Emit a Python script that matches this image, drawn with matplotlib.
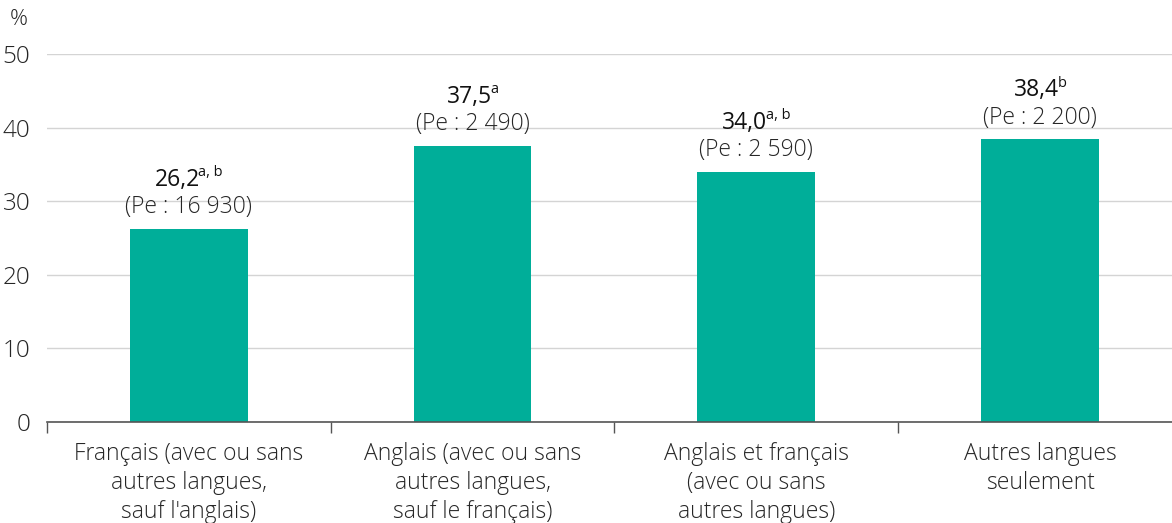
import matplotlib
matplotlib.use("Agg")
import matplotlib.pyplot as plt
import numpy as np

categories = [
    "Français (avec ou sans\nautres langues,\nsauf l'anglais)",
    "Anglais (avec ou sans\nautres langues,\nsauf le français)",
    "Anglais et français\n(avec ou sans\nautres langues)",
    "Autres langues\nseulement",
]
values = [26.2, 37.5, 34.0, 38.4]
notes = ["a, b", "a", "a, b", "b"]
pe_counts = ["16 930", "2 490", "2 590", "2 200"]
yticks = [0, 10, 20, 30, 40, 50]

plt.rcParams['font.family'] = ['Open Sans', 'DejaVu Sans']

bar_color = '#00AE99'
text_color = '#262626'
DPI = 100

fig = plt.figure(figsize=(11.72, 5.23), dpi=DPI)
ax = fig.add_axes([0.0401, 0.193, 0.9599, 0.7037])

x = np.arange(len(values))
ax.bar(x, values, width=0.415, color=bar_color, zorder=3)

ax.set_xlim(-0.5, 3.465)
ax.set_ylim(0, 50)

# horizontal gridlines only
ax.set_yticks(yticks)
ax.set_yticklabels([str(t) for t in yticks], fontsize=17.5, fontweight='light', color=text_color)
ax.yaxis.grid(True, color='#d4d4d4', linewidth=1.0, zorder=0)
ax.tick_params(axis='y', length=0, pad=12)

# category separators as ticks on the baseline
ax.set_xticks(np.arange(-0.5, 3.5, 1.0))
ax.set_xticklabels([])
ax.tick_params(axis='x', direction='out', length=8, width=1, color='#555555')
for i, c in enumerate(categories):
    ax.annotate(c, xy=(i, 0), xytext=(0, -14), textcoords='offset points',
                ha='center', va='top', fontsize=16.5, fontweight='light',
                color=text_color, linespacing=1.28, annotation_clip=False)

for side in ["top", "right", "left"]:
    ax.spines[side].set_visible(False)
ax.spines["bottom"].set_color('#555555')
ax.spines["bottom"].set_linewidth(1.2)
ax.spines["bottom"].set_zorder(4)

# value (with superscript notes) and sample size above each bar
renderer = fig.canvas.get_renderer()
for i, v in enumerate(values):
    main = ax.annotate("{:.1f}".format(v).replace('.', ','), xy=(i, v),
                       xytext=(0, 31), textcoords='offset points',
                       ha='left', va='baseline', fontsize=16.5, color='#111111')
    sup = ax.annotate(notes[i], xy=(i, v), xytext=(0, 38),
                      textcoords='offset points', ha='left', va='baseline',
                      fontsize=10.5, color='#111111')
    w_main = main.get_window_extent(renderer).width * 72 / DPI
    w_sup = sup.get_window_extent(renderer).width * 72 / DPI
    start = -(w_main - 1 + w_sup) / 2
    main.xyann = (start, 31)
    sup.xyann = (start + w_main - 1, 38)
    ax.annotate("(Pe : " + pe_counts[i] + ")", xy=(i, v), xytext=(0, 7),
                textcoords='offset points', ha='center', va='bottom',
                fontsize=16.5, fontweight='light', color=text_color)

fig.text(0.008, 0.962, "%", fontsize=16, fontweight='light', color=text_color,
         ha='left', va='center')

fig.savefig("out.png", dpi=DPI)
